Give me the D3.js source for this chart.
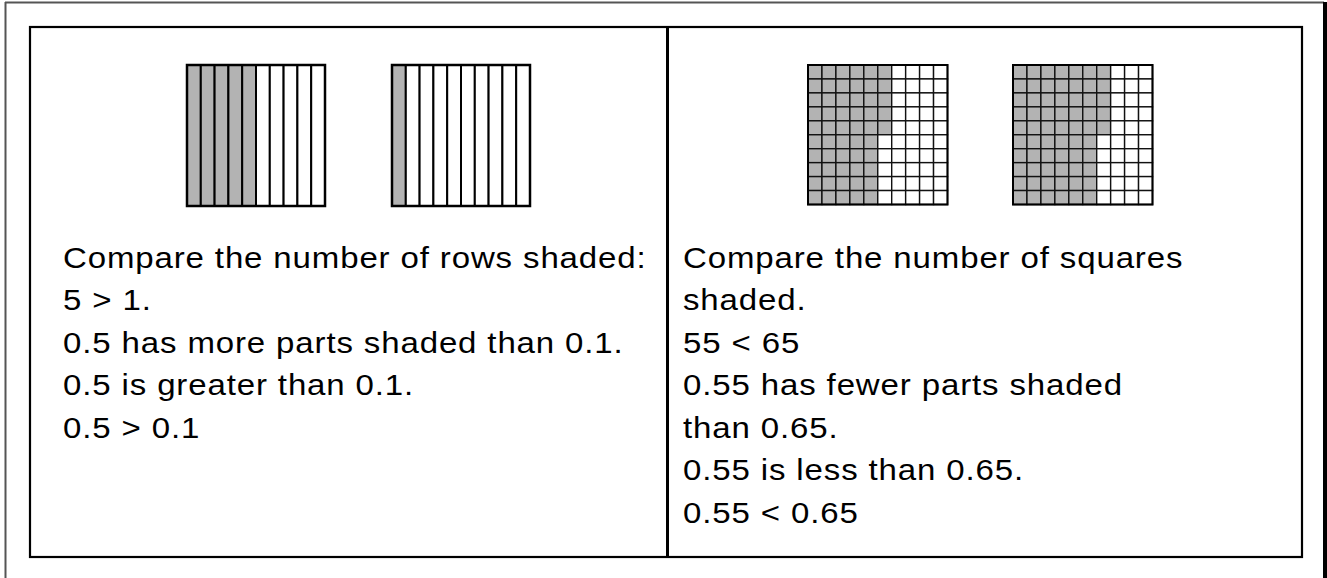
<!DOCTYPE html>
<html>
<head>
<meta charset="utf-8">
<script src="https://cdn.jsdelivr.net/npm/d3@7"></script>
<style>
  html, body { margin: 0; padding: 0; background: #fff; }
  svg { display: block; }
</style>
</head>
<body>
<svg id="chart" width="1327" height="578"></svg>
<script>
(function(){
const width = 1327;
const height = 578;

// --- Data ---
const tenthsShaded = [5, 1];        // left panel: 10 strips each
const hundredthsShaded = [55, 65];  // right panel: 10x10 grids
const leftLines = [
  "Compare the number of rows shaded:",
  "5 > 1.",
  "0.5 has more parts shaded than 0.1.",
  "0.5 is greater than 0.1.",
  "0.5 > 0.1"
];
const rightLines = [
  "Compare the number of squares",
  "shaded.",
  "55 < 65",
  "0.55 has fewer parts shaded",
  "than 0.65.",
  "0.55 is less than 0.65.",
  "0.55 < 0.65"
];

const svg = d3.select("#chart");
const shade = "#b3b3b3";

// --- Frames ---
svg.append("line").attr("x1", 5.5).attr("x2", 5.5).attr("y1", 2).attr("y2", height)
  .attr("stroke", "#555").attr("stroke-width", 2);
svg.append("line").attr("x1", 5).attr("x2", 1324).attr("y1", 2.5).attr("y2", 2.5)
  .attr("stroke", "#555").attr("stroke-width", 2);
svg.append("line").attr("x1", 1325).attr("x2", 1325).attr("y1", 2).attr("y2", height)
  .attr("stroke", "#000").attr("stroke-width", 4);

svg.append("rect").attr("x", 30).attr("y", 27).attr("width", 1272).attr("height", 530)
  .attr("fill", "none").attr("stroke", "#000").attr("stroke-width", 2.2);
svg.append("line").attr("x1", 667.5).attr("x2", 667.5).attr("y1", 26).attr("y2", 558)
  .attr("stroke", "#000").attr("stroke-width", 3);

// --- Tenths strips ---
const stripX = [187, 392];
const stripW = 138, stripH = 141, stripY = 65;
const col = d3.scaleBand().domain(d3.range(10)).range([0, stripW]);

tenthsShaded.forEach((n, gi) => {
  const g = svg.append("g").attr("transform", `translate(${stripX[gi]},${stripY})`);
  g.selectAll("rect")
    .data(d3.range(10))
    .join("rect")
    .attr("x", d => col(d))
    .attr("y", 0)
    .attr("width", col.bandwidth())
    .attr("height", stripH)
    .attr("fill", d => d < n ? shade : "#fff")
    .attr("stroke", "#000")
    .attr("stroke-width", 2);
  g.append("rect").attr("width", stripW).attr("height", stripH)
    .attr("fill", "none").attr("stroke", "#000").attr("stroke-width", 2.5);
});

// --- Hundredths grids ---
const gridX = [808, 1013];
const gridSize = 139.5, gridY = 65;
const cell = d3.scaleBand().domain(d3.range(10)).range([0, gridSize]);
const cells = d3.range(100).map(i => ({ c: Math.floor(i / 10), r: i % 10, i }));

hundredthsShaded.forEach((n, gi) => {
  const g = svg.append("g").attr("transform", `translate(${gridX[gi]},${gridY})`);
  g.selectAll("rect")
    .data(cells)
    .join("rect")
    .attr("x", d => cell(d.c))
    .attr("y", d => cell(d.r))
    .attr("width", cell.bandwidth())
    .attr("height", cell.bandwidth())
    .attr("fill", d => d.i < n ? shade : "#fff")
    .attr("stroke", "#111")
    .attr("stroke-width", 1.4);
  g.append("rect").attr("width", gridSize).attr("height", gridSize)
    .attr("fill", "none").attr("stroke", "#000").attr("stroke-width", 2);
});

// --- Text (the source face is a touch wider than Arial) ---
const lineY = d3.scaleLinear().domain([0, 1]).range([268, 310.5]);
function writeLines(lines, x) {
  svg.append("g")
    .attr("transform", `translate(${x},0) scale(1.1,1)`)
    .selectAll("text")
    .data(lines)
    .join("text")
    .attr("x", 0)
    .attr("y", (d, i) => lineY(i))
    .attr("font-family", "'Liberation Sans', Arial, Helvetica, sans-serif")
    .attr("font-size", 30)
    .attr("letter-spacing", 0.8)
    .attr("fill", "#000")
    .text(d => d);
}
writeLines(leftLines, 63);
writeLines(rightLines, 683);
})();
</script>
</body>
</html>
